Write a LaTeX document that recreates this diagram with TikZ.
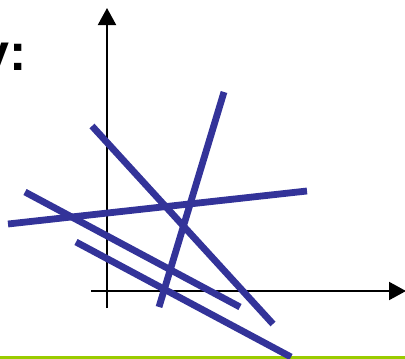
\documentclass[tikz,border=0pt]{standalone}
\usepackage{fontspec}
\setmainfont{Liberation Sans}
\usetikzlibrary{arrows.meta}
\definecolor{lineblue}{HTML}{333399}
\definecolor{barg}{HTML}{99CC00}
\begin{document}
\begin{tikzpicture}[x=1pt,y=-1pt,
  axis/.style={line width=2pt,-{Triangle[length=17pt,width=18pt]}},
  bline/.style={line width=6.8pt,draw=lineblue},
  lbl/.style={inner sep=0pt,font=\bfseries\fontsize{52}{52}\selectfont}]
\useasboundingbox (0,0) rectangle (405,359);
% green rule
\coordinate (g1) at (0,357.5);
\coordinate (g2) at (405,357.5);
\draw[barg,line width=3pt] (g1) -- (g2);
% label
\node[lbl,anchor=base east] (ylab) at (27,70) {y:};
% axes
\coordinate (vy0) at (107,308);
\coordinate (vy1) at (107,8);
\coordinate (hx0) at (91,291);
\coordinate (hx1) at (406,291);
\draw[axis] (vy0) -- (vy1);
\draw[axis] (hx0) -- (hx1);
% blue lines
\coordinate (a1) at (224,92);  \coordinate (a2) at (159,307);
\coordinate (b1) at (92,126);  \coordinate (b2) at (273,324);
\coordinate (c1) at (8,224);   \coordinate (c2) at (307,191);
\coordinate (d1) at (25,192);  \coordinate (d2) at (240,307);
\coordinate (e1) at (76,242);  \coordinate (e2) at (291,357);
\draw[bline] (a1) -- (a2);
\draw[bline] (b1) -- (b2);
\draw[bline] (c1) -- (c2);
\draw[bline] (d1) -- (d2);
\draw[bline] (e1) -- (e2);
\end{tikzpicture}
\end{document}
